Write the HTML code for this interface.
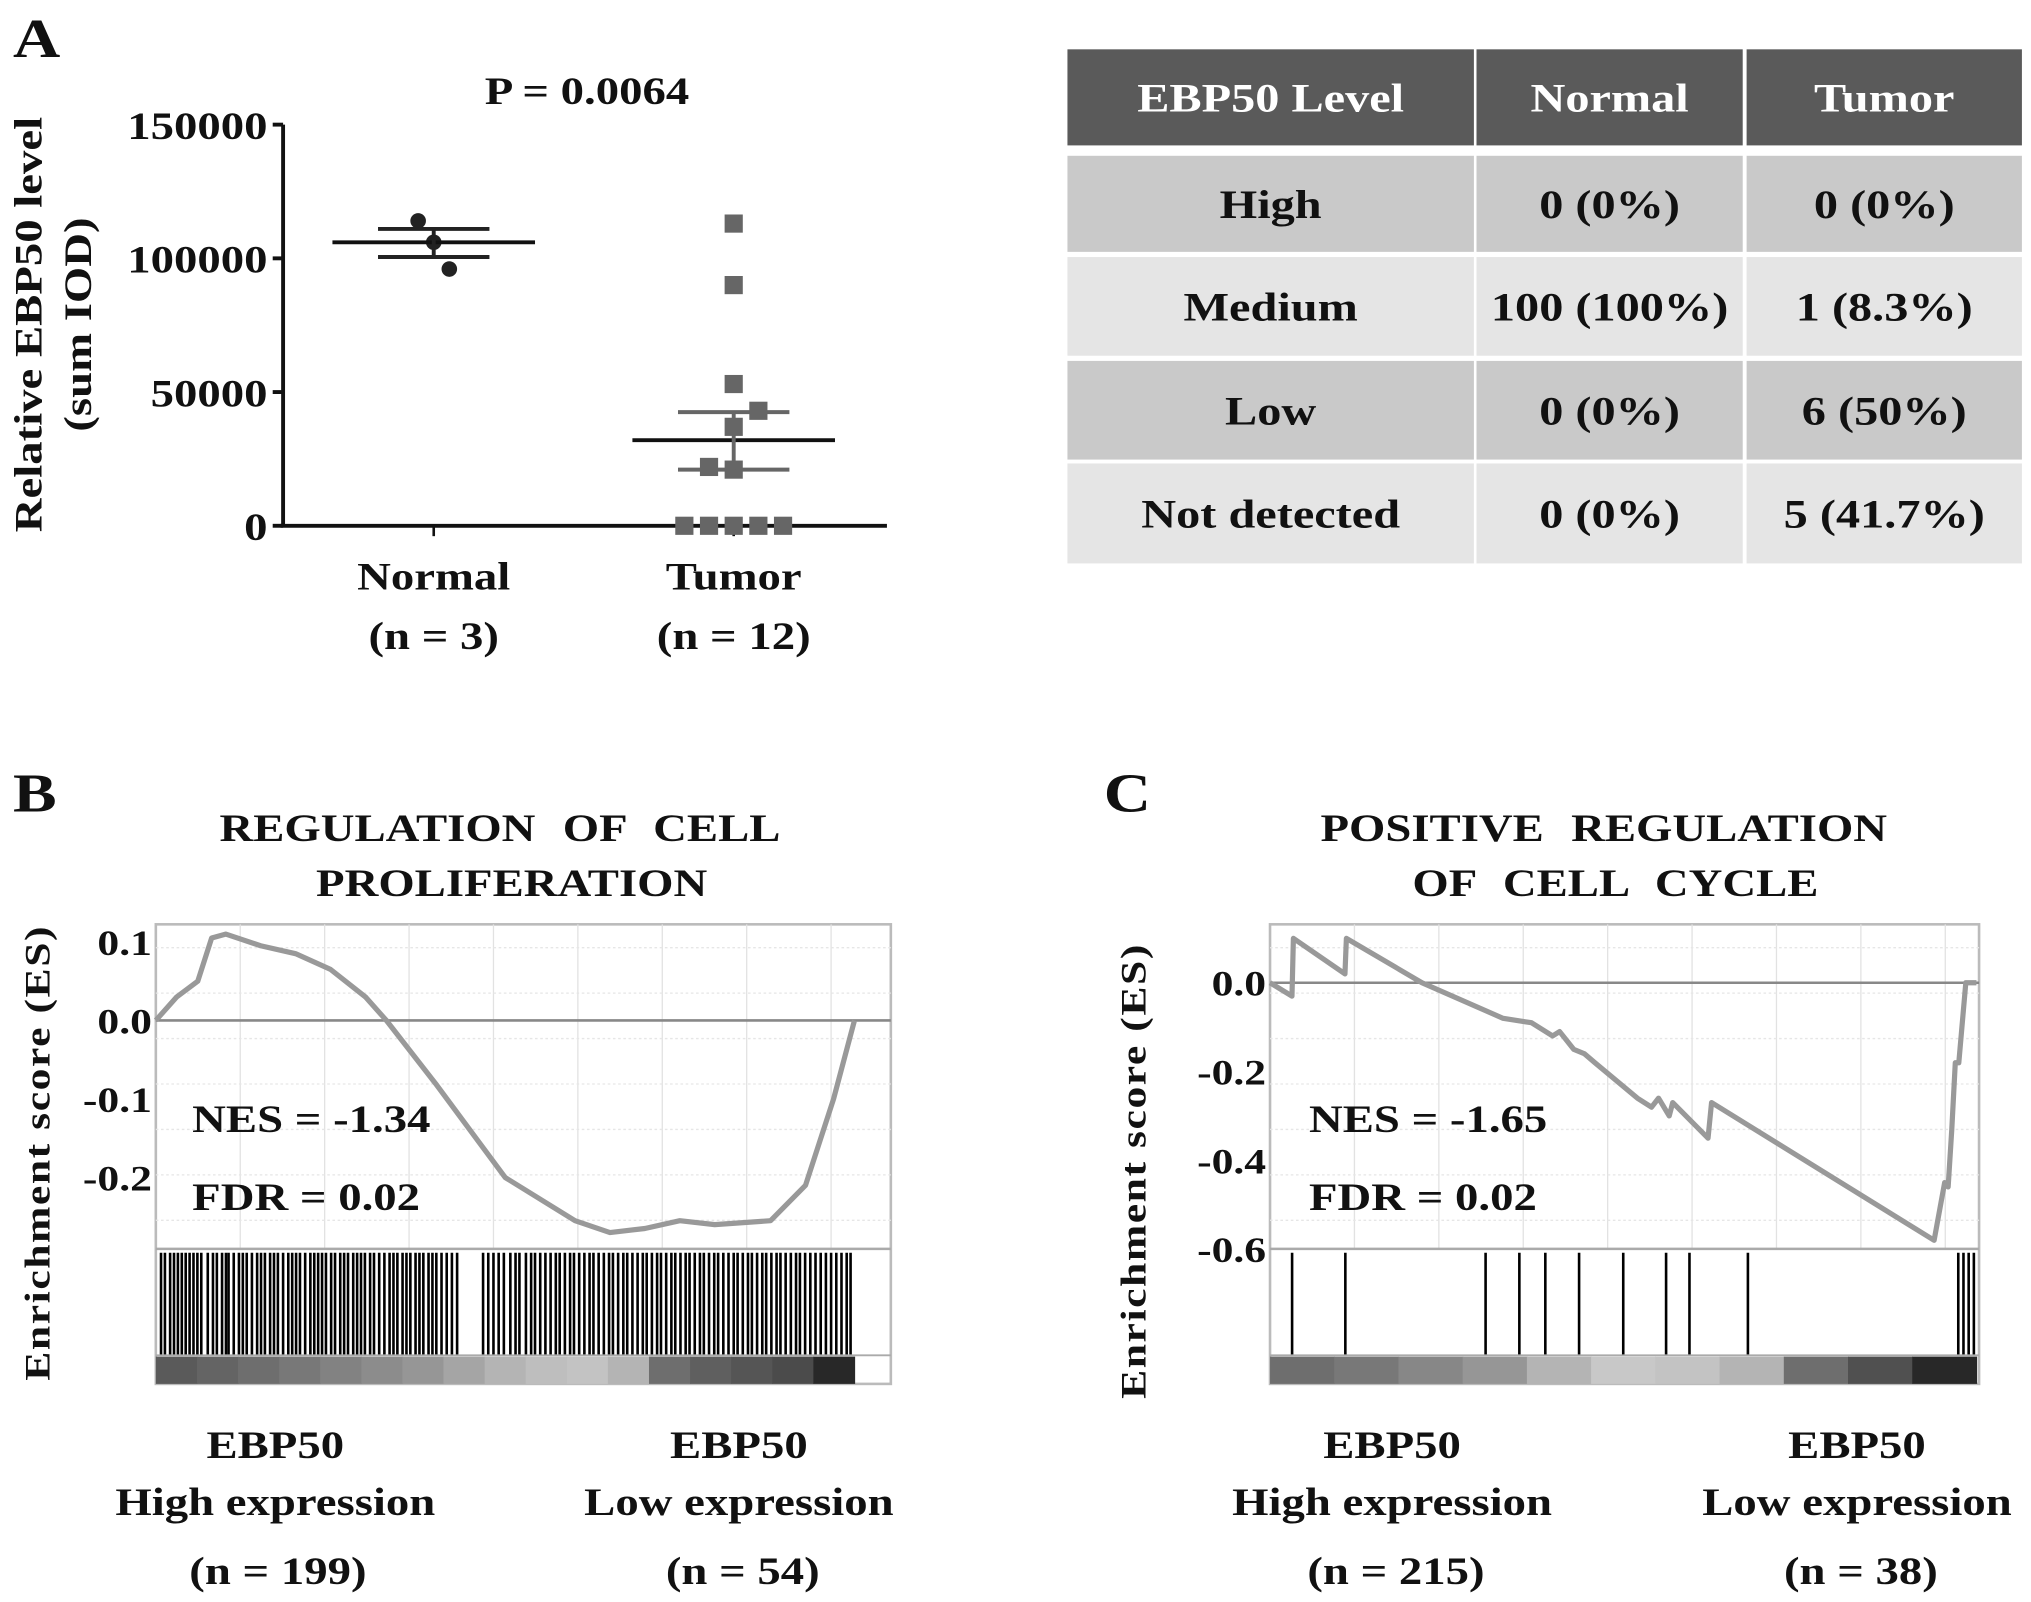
<!DOCTYPE html>
<html><head><meta charset="utf-8"><style>
html,body{margin:0;padding:0;background:#fff;}
svg{display:block;}
text{font-family:"Liberation Serif",serif;font-weight:bold;fill:#111;}
</style></head><body>
<svg id="fig" width="2031" height="1602" viewBox="0 0 1564 1234" preserveAspectRatio="none" xmlns="http://www.w3.org/2000/svg">
<g id="panelA">
  <text x="10" y="44" font-size="42">A</text>
  <text x="452" y="80" font-size="30" text-anchor="middle">P = 0.0064</text>
  <text transform="translate(32,250) rotate(-90)" font-size="30" text-anchor="middle">Relative EBP50 level</text>
  <text transform="translate(70,250) rotate(-90)" font-size="30" text-anchor="middle">(sum IOD)</text>
  <g id="aAxes"></g>
  <g id="aMarks"></g>
  <text x="334" y="454" font-size="30" text-anchor="middle">Normal</text>
  <text x="334" y="500" font-size="30" text-anchor="middle">(n = 3)</text>
  <text x="565" y="454" font-size="30" text-anchor="middle">Tumor</text>
  <text x="565" y="500" font-size="30" text-anchor="middle">(n = 12)</text>
</g>
<g id="table"></g>
<g id="panelB">
  <text x="10" y="625" font-size="42">B</text>
  <text x="385" y="648" font-size="30" text-anchor="middle" word-spacing="10">REGULATION OF CELL</text>
  <text x="394" y="690" font-size="30" text-anchor="middle">PROLIFERATION</text>
  <text transform="translate(38,888) rotate(-90)" font-size="28" text-anchor="middle" letter-spacing="1">Enrichment score (ES)</text>
  <g id="bPlot"></g>
  <text x="148" y="872" font-size="30">NES = -1.34</text>
  <text x="148" y="932" font-size="30">FDR = 0.02</text>
  <text x="212" y="1123" font-size="30" text-anchor="middle">EBP50</text>
  <text x="212" y="1167" font-size="30" text-anchor="middle">High expression</text>
  <text x="214" y="1220" font-size="30" text-anchor="middle">(n = 199)</text>
  <text x="569" y="1123" font-size="30" text-anchor="middle">EBP50</text>
  <text x="569" y="1167" font-size="30" text-anchor="middle">Low expression</text>
  <text x="572" y="1220" font-size="30" text-anchor="middle">(n = 54)</text>
</g>
<g id="panelC">
  <text x="850" y="625" font-size="42">C</text>
  <text x="1235" y="648" font-size="30" text-anchor="middle" word-spacing="10">POSITIVE REGULATION</text>
  <text x="1244" y="690" font-size="30" text-anchor="middle" word-spacing="10">OF CELL CYCLE</text>
  <text transform="translate(882,902) rotate(-90)" font-size="28" text-anchor="middle" letter-spacing="1">Enrichment score (ES)</text>
  <g id="cPlot"></g>
  <text x="1008" y="872" font-size="30">NES = -1.65</text>
  <text x="1008" y="932" font-size="30">FDR = 0.02</text>
  <text x="1072" y="1123" font-size="30" text-anchor="middle">EBP50</text>
  <text x="1072" y="1167" font-size="30" text-anchor="middle">High expression</text>
  <text x="1075" y="1220" font-size="30" text-anchor="middle">(n = 215)</text>
  <text x="1430" y="1123" font-size="30" text-anchor="middle">EBP50</text>
  <text x="1430" y="1167" font-size="30" text-anchor="middle">Low expression</text>
  <text x="1433" y="1220" font-size="30" text-anchor="middle">(n = 38)</text>
</g>
</svg>
<script>
// ===== Panel A data =====
const aTicks = [0, 50000, 100000, 150000];
const aTickLabels = ["0", "50000", "100000", "150000"];
const normalValues = [114000, 106000, 96000];
const normalOffsets = [-1, 0, 1];
const tumorValues = [113000, 90000, 53000, 43000, 37000, 22000, 21000, 0, 0, 0, 0, 0];
const tumorOffsets = [0, 0, 0, 1, 0, -1, 0, -2, -1, 0, 1, 2];
const normalStats = [106000, 111000, 100500];
const tumorStats = [32000, 42500, 21000];
// ===== Table data =====
const tableHeader = ["EBP50 Level", "Normal", "Tumor"];
const tableRows = [["High","0 (0%)","0 (0%)"],["Medium","100 (100%)","1 (8.3%)"],["Low","0 (0%)","6 (50%)"],["Not detected","0 (0%)","5 (41.7%)"]];
// ===== Panel B data =====
const bTicks = [0.1, 0.0, -0.1, -0.2];
const bTickLabels = ["0.1", "0.0", "-0.1", "-0.2"];
const bRank = [0,0.03,0.06,0.08,0.1,0.15,0.2,0.25,0.3,0.33,0.4,0.5,0.6,0.65,0.7,0.75,0.8,0.88,0.93,0.97,1.0];
const bES = [0,0.03,0.05,0.105,0.11,0.095,0.085,0.065,0.03,0.0,-0.08,-0.2,-0.255,-0.27,-0.265,-0.255,-0.26,-0.255,-0.21,-0.1,0.0];
const bHits = [124,127,131,134,137,140,143,146,149,152,155,160,164,167,171,174,176,180,184,187,190,194,198,201,204,208,211,214,218,222,225,228,231,235,239,242,245,248,251,255,258,262,265,268,272,275,278,281,285,288,292,296,300,303,306,310,313,316,320,323,326,330,333,336,340,344,348,352,372,376,380,384,388,393,397,400,405,409,412,416,420,424,428,431,435,439,442,446,450,454,457,461,465,469,472,476,480,483,487,491,495,498,502,506,509,513,517,520,524,528,531,535,539,542,546,550,553,557,561,565,568,572,576,579,583,587,590,594,598,601,605,609,613,616,620,624,628,632,636,640,644,648,652,655];
const bStripShades = [90,100,110,120,130,140,150,165,180,190,195,180,110,95,85,75,40];
// ===== Panel C data =====
const cTicks = [0.0, -0.2, -0.4, -0.6];
const cTickLabels = ["0.0", "-0.2", "-0.4", "-0.6"];
const cRank = [0,0.031,0.033,0.106,0.108,0.215,0.33,0.37,0.4,0.41,0.43,0.445,0.46,0.52,0.54,0.55,0.565,0.57,0.62,0.625,0.94,0.955,0.96,0.965,0.97,0.975,0.985,1.0];
const cES = [0,-0.03,0.1,0.02,0.1,0.0,-0.08,-0.09,-0.12,-0.11,-0.15,-0.16,-0.18,-0.26,-0.28,-0.26,-0.30,-0.27,-0.35,-0.27,-0.58,-0.45,-0.46,-0.33,-0.18,-0.18,0.0,0.0];
const cHits = [995,1036,1144,1170,1190,1216,1250,1283,1301,1346,1508,1512,1516,1520];
const cStripShades = [110,120,135,150,180,200,195,180,110,80,40];

const NS = "http://www.w3.org/2000/svg";
function mk(parent, tag, attrs){ const e=document.createElementNS(NS,tag); for(const k in attrs) e.setAttribute(k,attrs[k]); parent.appendChild(e); return e; }

// ---- Panel A ----
const aY = v => 405 - v/150000*309;
const aAx = document.getElementById('aAxes');
const ya = mk(aAx,'line',{x1:218,y1:96,x2:218,y2:406,stroke:'#111','stroke-width':3});


const xa = mk(aAx,'line',{x1:216,y1:405,x2:683,y2:405,stroke:'#111','stroke-width':3});


aTicks.forEach((t,i)=>{
  const tk = mk(aAx,'line',{x1:210,y1:aY(t),x2:218,y2:aY(t),stroke:'#111','stroke-width':3});
  
  
  const lb = mk(aAx,'text',{x:206,y:aY(t)+11,'font-size':30,'text-anchor':'end'});
  lb.textContent = aTickLabels[i];
  
  
});
[334,565].forEach(x=>{ const t=mk(aAx,'line',{x1:x,y1:405,x2:x,y2:413,stroke:'#111','stroke-width':2});
  
   });
const aM = document.getElementById('aMarks');
function stats(cx, s, w, color, name){
  const g = mk(aM,'g',{});
  
  
  mk(g,'line',{x1:cx-w,y1:aY(s[0]),x2:cx+w,y2:aY(s[0]),stroke:'#111','stroke-width':3});
  mk(g,'line',{x1:cx-w*0.55,y1:aY(s[1]),x2:cx+w*0.55,y2:aY(s[1]),stroke:color,'stroke-width':3});
  mk(g,'line',{x1:cx-w*0.55,y1:aY(s[2]),x2:cx+w*0.55,y2:aY(s[2]),stroke:color,'stroke-width':3});
  mk(g,'line',{x1:cx,y1:aY(s[1]),x2:cx,y2:aY(s[2]),stroke:color,'stroke-width':3});
}
normalValues.forEach((v,i)=>{ const c=mk(aM,'circle',{cx:334+normalOffsets[i]*12,cy:aY(v),r:6,fill:'#222'});
  
   });
stats(334, normalStats, 78, '#222', 'normal-mean-sem');
tumorValues.forEach((v,i)=>{ const r=mk(aM,'rect',{x:565+tumorOffsets[i]*19-7,y:aY(v)-7,width:14,height:14,fill:'#666'});
  
   });
stats(565, tumorStats, 78, '#666', 'tumor-mean-sem');

// ---- Table ----
const tb = document.getElementById('table');
const colX = [822,1137,1345], colW=[313,205,212];
const rowY = [38,120,198,278,357], rowH=[74,74,76,76,77];
const rowFill = ['#5a5a5a','#c9c9c9','#e5e5e5','#c9c9c9','#e5e5e5'];
[tableHeader].concat(tableRows).forEach((row,r)=>{
  row.forEach((txt,c)=>{
    const cell = mk(tb,'rect',{x:colX[c],y:rowY[r],width:colW[c],height:rowH[r],fill:rowFill[r]});
    
    
    const t = mk(tb,'text',{x:colX[c]+colW[c]/2,y:rowY[r]+rowH[r]/2+11,'font-size':31,'text-anchor':'middle'});
    if(r===0) t.setAttribute('style','fill:#fff');
    t.textContent = txt;
    
    
  });
});

// ---- GSEA plot helper ----
function gsea(gid, box, esY, ticks, labels, rank, es, hits, shades, hitX0, hitX1, prefix){
  const g = document.getElementById(gid);
  const bg = mk(g,'rect',{x:box.x0,y:box.top,width:box.x1-box.x0,height:box.bottom-box.top,fill:'#fff',stroke:'#bbb','stroke-width':2});
  
  
  for(let x=box.x0+65; x<box.x1; x+=65){ mk(g,'line',{x1:x,y1:box.top,x2:x,y2:box.esBottom,stroke:'#e2e2e2','stroke-width':1}); }
  for(let y=box.top+18; y<box.esBottom; y+=35){ mk(g,'line',{x1:box.x0,y1:y,x2:box.x1,y2:y,stroke:'#e6e6e6','stroke-width':1,'stroke-dasharray':'2,2'}); }
  const z = mk(g,'line',{x1:box.x0,y1:esY(0),x2:box.x1,y2:esY(0),stroke:'#888','stroke-width':2});
  
  
  mk(g,'line',{x1:box.x0,y1:box.esBottom,x2:box.x1,y2:box.esBottom,stroke:'#aaa','stroke-width':2});
  ticks.forEach((t,i)=>{
    const lb = mk(g,'text',{x:box.x0-3,y:esY(t)+10,'font-size':28,'text-anchor':'end'});
    lb.textContent = labels[i];
    
    
  });
  const rx = r => hitX0 + r*(hitX1-hitX0);
  const pts = rank.map((r,i)=>rx(r).toFixed(1)+','+esY(es[i]).toFixed(1)).join(' ');
  const ln = mk(g,'polyline',{points:pts,fill:'none',stroke:'#999','stroke-width':4,'stroke-linejoin':'round'});
  
  
  hits.forEach(h=>{
    const l = mk(g,'line',{x1:h,y1:box.esBottom+3,x2:h,y2:box.stripTop,stroke:'#000','stroke-width':box.hitW});
    
    
  });
  mk(g,'line',{x1:box.x0,y1:box.stripTop,x2:box.x1,y2:box.stripTop,stroke:'#aaa','stroke-width':1.5});
  const sw = (hitX1-hitX0)/shades.length;
  shades.forEach((s,i)=>{
    const r = mk(g,'rect',{x:hitX0+i*sw,y:box.stripTop+1,width:sw+0.5,height:box.bottom-box.stripTop-1,fill:`rgb(${s},${s},${s})`});
    
    
  });
}
const bY = v => 786 - v*605;
gsea('bPlot',{x0:120,x1:686,top:712,esBottom:962,stripTop:1044,bottom:1066,hitW:2},bY,bTicks,bTickLabels,bRank,bES,bHits,bStripShades,120,658,'b');
const cY = v => 757 - v*342;
gsea('cPlot',{x0:978,x1:1524,top:712,esBottom:962,stripTop:1044,bottom:1066,hitW:2},cY,cTicks,cTickLabels,cRank,cES,cHits,cStripShades,978,1522,'c');

// widen all text horizontally (reference glyphs are wider)
document.querySelectorAll('#fig text').forEach(t=>{
  const tr = t.getAttribute('transform');
  if(tr){ t.setAttribute('transform', tr + ' scale(1.2,1)'); }
  else { const x = parseFloat(t.getAttribute('x')); t.setAttribute('transform', `translate(${x},0) scale(1.2,1) translate(${-x},0)`); }
});
</script>
</body></html>
